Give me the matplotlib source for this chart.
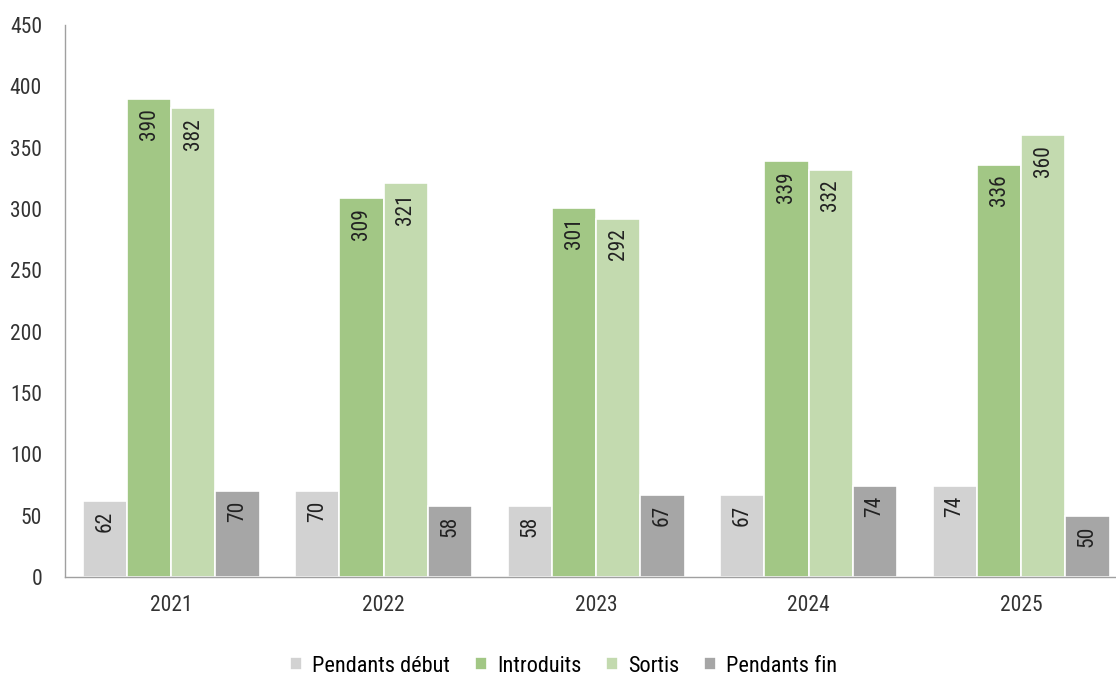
import numpy as np
import matplotlib.pyplot as plt
from matplotlib import font_manager

# prefer a condensed face if one happens to be installed
names = {f.name for f in font_manager.fontManager.ttflist}
main_font = "Roboto"
for cand in ["Roboto Condensed", "Liberation Sans Narrow"]:
    if cand in names:
        main_font = cand
        break
plt.rcParams['font.family'] = [main_font, 'DejaVu Sans']

years = ["2021", "2022", "2023", "2024", "2025"]
series = ["Pendants début", "Introduits", "Sortis", "Pendants fin"]
pendants_debut = [62, 70, 58, 67, 74]
introduits = [390, 309, 301, 339, 336]
sortis = [382, 321, 292, 332, 360]
pendants_fin = [70, 58, 67, 74, 50]
colors = ["#D2D2D2", "#A2C785", "#C3DAAF", "#A6A6A6"]

values = [pendants_debut, introduits, sortis, pendants_fin]

fig = plt.figure(figsize=(11.16, 6.75), dpi=100)
ax = fig.add_axes([0.0582, 0.145, 0.952, 0.818])

x = np.arange(len(years))
w = 0.208
for i, (name, vals, col) in enumerate(zip(series, values, colors)):
    pos = x + (i - 1.5) * w
    ax.bar(pos, vals, width=w, color=col, edgecolor="white",
           linewidth=1.2, label=name)
    for xp, v in zip(pos, vals):
        ax.annotate(str(v), xy=(xp, v), xytext=(0, -7), textcoords="offset points",
                    ha="center", va="top", rotation=90, fontsize=15.5,
                    color="#222222")

ax.set_xlim(-0.5, 4.5)
ax.set_ylim(0, 450)
ax.set_yticks(range(0, 451, 50))
ax.set_xticks(x)
ax.set_xticklabels(years)
ax.tick_params(axis="both", length=0, labelsize=15.5, colors="#333333")
ax.tick_params(axis="y", pad=16.5)
ax.tick_params(axis="x", pad=13)

for s in ["top", "right"]:
    ax.spines[s].set_visible(False)
for s in ["left", "bottom"]:
    ax.spines[s].set_color("#A0A0A0")
    ax.spines[s].set_linewidth(1.0)

fig.legend(loc="lower center", bbox_to_anchor=(0.505, -0.032), ncol=4,
           frameon=False, fontsize=16, handlelength=0.55, handleheight=0.55,
           handletextpad=0.45, columnspacing=1.1)

plt.savefig("out.png", dpi=100)
plt.close()
